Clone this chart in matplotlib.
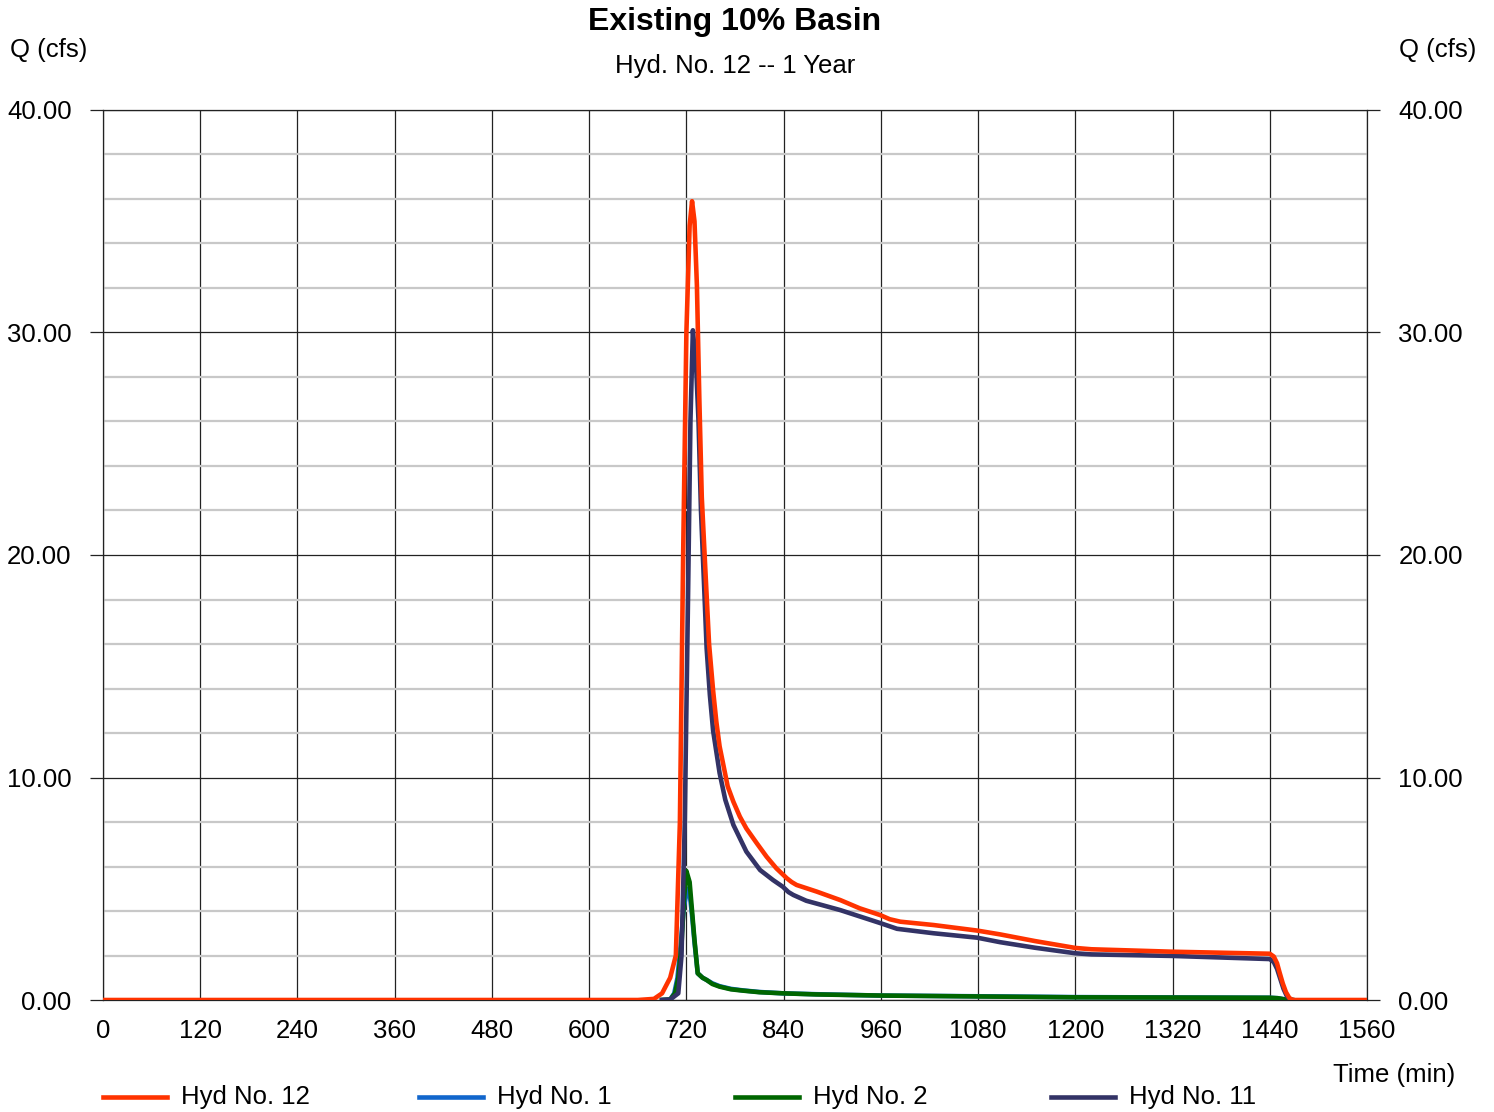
import matplotlib
matplotlib.use("Agg")
import matplotlib.pyplot as plt
from matplotlib.lines import Line2D
from matplotlib.ticker import MultipleLocator

plt.rcParams['font.family'] = ['Liberation Sans', 'DejaVu Sans']

## hydrograph data (time in min, flow in cfs)
t12 = [0, 660, 680, 690, 700, 707, 712, 716, 720, 724, 727, 730, 733, 736, 739, 744,
       748, 753, 757, 761, 766, 771, 778, 786, 794, 807, 819, 831, 844, 850, 856, 866,
       881, 910, 934, 959, 971, 984, 1025, 1079, 1107, 1150, 1200, 1220, 1320, 1440,
       1445, 1449, 1452, 1456, 1460, 1464, 1467, 1470, 1560]
q12 = [0, 0, 0.05, 0.3, 1.0, 2.0, 8.0, 20.0, 30.0, 34.8, 35.9, 35.0, 32.1, 27.0, 22.6, 18.9,
       16.0, 13.9, 12.5, 11.4, 10.5, 9.6, 8.91, 8.24, 7.71, 7.04, 6.44, 5.92, 5.47, 5.3, 5.17,
       5.05, 4.87, 4.49, 4.12, 3.82, 3.63, 3.52, 3.37, 3.12, 2.95, 2.65, 2.34, 2.28, 2.17,
       2.08, 1.95, 1.65, 1.25, 0.75, 0.35, 0.1, 0.02, 0, 0]

t1 = [690, 700, 705, 709, 713, 717, 721, 724, 727, 730, 734, 740, 745, 752, 761, 775,
      790, 810, 839, 880, 959, 1107, 1200, 1440, 1450, 1458, 1468]
q1 = [0, 0.02, 0.3, 1.0, 2.5, 4.2, 5.0, 4.8, 3.8, 2.6, 1.2, 1.0, 0.9, 0.75, 0.62, 0.5,
      0.43, 0.36, 0.3, 0.26, 0.2, 0.16, 0.13, 0.1, 0.08, 0.03, 0]

t2 = [690, 700, 706, 710, 714, 717, 720, 724, 727, 730, 734, 740, 745, 752, 761, 775,
      790, 810, 839, 880, 959, 1107, 1200, 1440, 1450, 1458, 1468]
q2 = [0, 0.02, 0.3, 1.0, 2.5, 4.5, 5.8, 5.3, 4.0, 2.7, 1.2, 1.0, 0.9, 0.72, 0.6, 0.48,
      0.42, 0.35, 0.3, 0.25, 0.2, 0.15, 0.12, 0.1, 0.08, 0.03, 0]

t11 = [690, 700, 710, 714, 718, 722, 725, 728, 732, 735, 738, 742, 745, 749, 753, 761,
       768, 778, 794, 811, 827, 839, 846, 852, 868, 910, 959, 980, 1025, 1079, 1107, 1150,
       1200, 1220, 1320, 1440, 1445, 1449, 1453, 1457, 1461, 1465, 1468]
q11 = [0, 0.02, 0.3, 2.0, 8.0, 18.0, 26.0, 30.1, 28.5, 26.0, 22.0, 18.5, 15.8, 13.7, 12.1, 10.2,
       9.0, 7.87, 6.67, 5.84, 5.39, 5.09, 4.85, 4.72, 4.46, 4.04, 3.46, 3.2, 3.0, 2.8, 2.6, 2.35,
       2.1, 2.05, 1.98, 1.84, 1.7, 1.4, 0.95, 0.5, 0.18, 0.03, 0]

names = ['Hyd No. 12', 'Hyd No. 1', 'Hyd No. 2', 'Hyd No. 11']
colors = ['#ff3300', '#1166cc', '#006600', '#333366']
xticks = list(range(0, 1561, 120))
yticks = [0, 10, 20, 30, 40]

fs = 18.5
lw = 3.3
fig = plt.figure(figsize=(14.94, 11.12), dpi=100)
ax = fig.add_axes([103/1494, 1 - 1000/1112, 1264/1494, 890/1112])

series = [(t12, q12), (t1, q1), (t2, q2), (t11, q11)]
for (t, q), c, z in zip(series, colors, [7, 4, 5, 6]):
    ax.plot(t, q, color=c, lw=lw, zorder=z, solid_joinstyle='round')

ax.set_xlim(0, 1560)
ax.set_ylim(0, 40)
ax.set_xticks(xticks)
ax.set_xticklabels([str(v) for v in xticks])
ax.set_yticks(yticks)
ax.set_yticklabels(['%.2f' % v for v in yticks])
ax.yaxis.set_minor_locator(MultipleLocator(2))

ax.grid(which='major', color='#222222', lw=0.9, zorder=1)
ax.grid(which='minor', axis='y', color='#c8c8c8', lw=1.6, zorder=0)
ax.set_axisbelow(True)

ax.tick_params(axis='x', length=0, pad=14, labelsize=fs)
ax.tick_params(axis='y', which='major', left=True, right=True, labelleft=True,
               labelright=True, direction='out', length=9.5, width=0.9,
               color='#222222', pad=13, labelsize=fs)
ax.tick_params(axis='y', which='minor', length=0)
for s in ax.spines.values():
    s.set_color('#222222')
    s.set_linewidth(0.9)

# titles and axis labels
cx = (103 + 1367) / 2 / 1494
fig.text(cx, 1 - 22/1112, 'Existing 10% Basin', ha='center', va='center',
         fontsize=23, fontweight='bold')
fig.text(cx, 1 - 66/1112, 'Hyd. No. 12 -- 1 Year', ha='center', va='center', fontsize=fs)
fig.text(10/1494, 1 - 50/1112, 'Q (cfs)', ha='left', va='center', fontsize=fs)
fig.text(1476/1494, 1 - 50/1112, 'Q (cfs)', ha='right', va='center', fontsize=fs)
fig.text(1455/1494, 1 - 1075/1112, 'Time (min)', ha='right', va='center', fontsize=fs)

# legend row along the bottom
ly = 1 - 1097/1112
for i, (n, c) in enumerate(zip(names, colors)):
    x0 = (103 + i * 316) / 1494
    fig.add_artist(Line2D([x0, x0 + 64/1494], [ly, ly], color=c, lw=lw,
                          transform=fig.transFigure))
    fig.text(x0 + 78/1494, ly, n, ha='left', va='center', fontsize=fs)

fig.savefig('out.png', dpi=100)
